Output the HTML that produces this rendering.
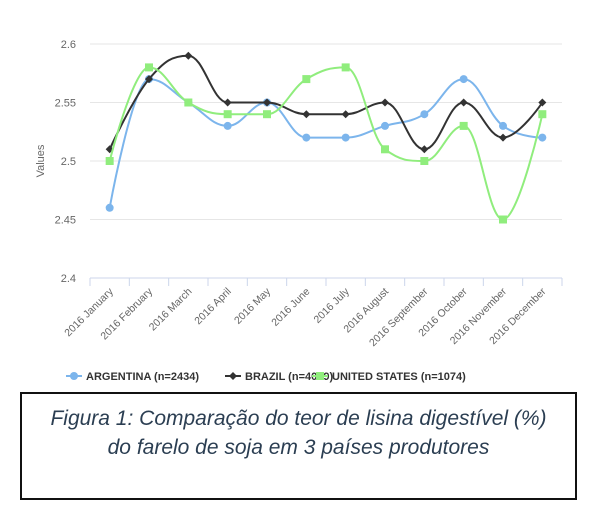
<!DOCTYPE html>
<html><head><meta charset="utf-8"><style>
body{margin:0;background:#fff;width:600px;height:509px;overflow:hidden;font-family:"Liberation Sans",sans-serif}
#cap{position:absolute;left:20px;top:392px;width:557px;height:108px;border:2px solid #111;text-align:center;font-style:italic;font-size:21px;color:#2b3e52;line-height:29px;padding-top:10px;box-sizing:border-box;white-space:nowrap}
</style></head><body>
<svg id="chart" width="600" height="390" style="position:absolute;left:0;top:0" font-family="Liberation Sans, sans-serif"></svg>
<div id="cap">Figura 1: Comparação do teor de lisina digestível (%)<br>do farelo de soja em 3 países produtores</div>
<script>
const categories=["2016 January","2016 February","2016 March","2016 April","2016 May","2016 June","2016 July","2016 August","2016 September","2016 October","2016 November","2016 December"];
const argentina=[2.46,2.57,2.55,2.53,2.55,2.52,2.52,2.53,2.54,2.57,2.53,2.52];
const brazil=[2.51,2.57,2.59,2.55,2.55,2.54,2.54,2.55,2.51,2.55,2.52,2.55];
const unitedStates=[2.50,2.58,2.55,2.54,2.54,2.57,2.58,2.51,2.50,2.53,2.45,2.54];
const yTicks=[2.4,2.45,2.5,2.55,2.6];
const seriesNames=["ARGENTINA (n=2434)","BRAZIL (n=4049)","UNITED STATES (n=1074)"];
const NS="http://www.w3.org/2000/svg";
const svg=document.getElementById('chart');
const L=90,R=562,T=44,B=278,ymin=2.4,ymax=2.6;
const bw=(R-L)/categories.length;
const xs=i=>L+bw*(i+0.5);
const ys=v=>B-(v-ymin)/(ymax-ymin)*(B-T);
function mk(t,a,p){const e=document.createElementNS(NS,t);for(const k in a)e.setAttribute(k,a[k]);(p||svg).appendChild(e);return e;}
yTicks.forEach(v=>{
 const g=mk('line',{x1:L,x2:R,y1:ys(v),y2:ys(v),stroke:v===ymin?'#ccd6eb':'#e6e6e6','stroke-width':1});
 
 
 const t=mk('text',{x:L-14,y:ys(v)+4,'text-anchor':'end','font-size':11,fill:'#666'});t.textContent=v;
 
 
});
const yt=mk('text',{x:44,y:161,transform:'rotate(-90 44 161)','text-anchor':'middle','font-size':11,fill:'#666'});yt.textContent='Values';


for(let i=0;i<=categories.length;i++){const tk=mk('line',{x1:L+bw*i,x2:L+bw*i,y1:B,y2:B+8,stroke:'#ccd6eb'});
 
 }
categories.forEach((c,i)=>{const x=xs(i)+4,y=B+14;
 const t=mk('text',{x:x,y:y,transform:`rotate(-45 ${x} ${y})`,'text-anchor':'end','font-size':10.5,fill:'#666'});t.textContent=c;
 
 });
function spline(d){
 const p=d.map((v,i)=>[xs(i),ys(v)]);let s=`M${p[0][0]},${p[0][1]}`;
 const sm=1.5,den=2.5;
 function ctrl(i){
  const prev=p[i-1],cur=p[i],next=p[i+1];
  if(!prev||!next)return [cur,cur];
  let lx=(sm*cur[0]+prev[0])/den,ly=(sm*cur[1]+prev[1])/den,rx=(sm*cur[0]+next[0])/den,ry=(sm*cur[1]+next[1])/den;
  if(rx!==lx){const c=(ry-ly)*(rx-cur[0])/(rx-lx)+cur[1]-ry;ly+=c;ry+=c;}
  if(ly>Math.max(prev[1],cur[1])){ly=Math.max(prev[1],cur[1]);ry=2*cur[1]-ly;}else if(ly<Math.min(prev[1],cur[1])){ly=Math.min(prev[1],cur[1]);ry=2*cur[1]-ly;}
  if(ry>Math.max(next[1],cur[1])){ry=Math.max(next[1],cur[1]);ly=2*cur[1]-ry;}else if(ry<Math.min(next[1],cur[1])){ry=Math.min(next[1],cur[1]);ly=2*cur[1]-ry;}
  return [[lx,ly],[rx,ry]];}
 for(let i=1;i<p.length;i++){const a=ctrl(i-1)[1],b=ctrl(i)[0];s+=` C${a[0]},${a[1]} ${b[0]},${b[1]} ${p[i][0]},${p[i][1]}`;}
 return s;}
const cols=['#7cb5ec','#333','#90ed7d'];
[argentina,brazil,unitedStates].forEach((d,k)=>{
 const pa=mk('path',{d:spline(d),fill:'none',stroke:cols[k],'stroke-width':2});
 
 
 d.forEach((v,i)=>{const x=xs(i),y=ys(v);let m;
  if(k===0)m=mk('circle',{cx:x,cy:y,r:4,fill:cols[k]});
  else if(k===1)m=mk('path',{d:`M${x},${y-4}L${x+4},${y}L${x},${y+4}L${x-4},${y}Z`,fill:cols[k]});
  else m=mk('rect',{x:x-4,y:y-4,width:8,height:8,fill:cols[k]});
  
  });
});
const lx=[66,225,312];
seriesNames.forEach((n,k)=>{const x=lx[k],y=380;
 const g=mk('g',{});
 
 
 mk('line',{x1:x,x2:x+16,y1:y-4,y2:y-4,stroke:cols[k],'stroke-width':2},g);
 if(k===0)mk('circle',{cx:x+8,cy:y-4,r:4,fill:cols[k]},g);
 else if(k===1)mk('path',{d:`M${x+8},${y-8}L${x+12},${y-4}L${x+8},${y}L${x+4},${y-4}Z`,fill:cols[k]},g);
 else mk('rect',{x:x+4,y:y-8,width:8,height:8,fill:cols[k]},g);
 const t=mk('text',{x:x+20,y:y,'font-size':11,'font-weight':'bold',fill:'#333'},g);t.textContent=n;});
</script>
</body></html>
